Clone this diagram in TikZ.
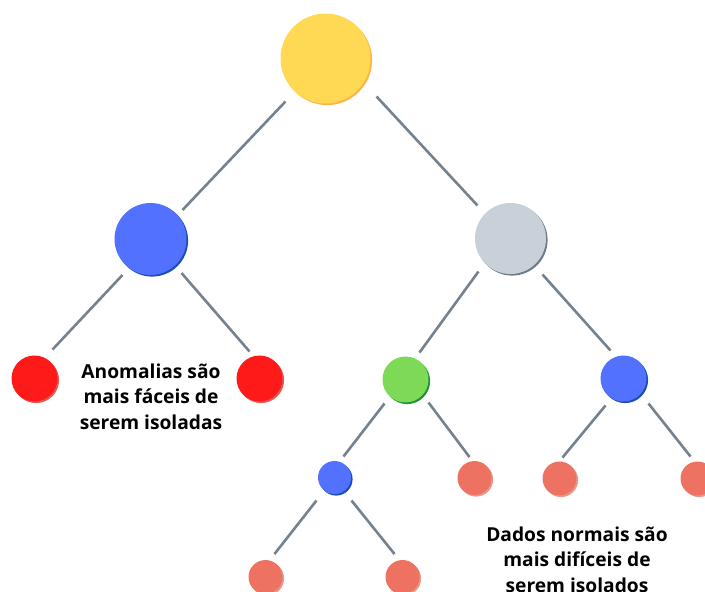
\documentclass[tikz,border=0pt]{standalone}
\usepackage{fontspec}
\setmainfont{Open Sans}
\definecolor{lineC}{HTML}{75828D}
\definecolor{yel}{HTML}{FFD954}
\definecolor{yelS}{HTML}{FFB347}
\definecolor{blu}{HTML}{5271FF}
\definecolor{bluS}{HTML}{1D4DB5}
\definecolor{gry}{HTML}{C8D0DA}
\definecolor{gryS}{HTML}{6F7C88}
\definecolor{rd}{HTML}{FF1A1A}
\definecolor{rdS}{HTML}{E05A5A}
\definecolor{grn}{HTML}{7ED957}
\definecolor{grnS}{HTML}{1E8F3A}
\definecolor{sal}{HTML}{EE7262}
\definecolor{salS}{HTML}{E59A8E}
\tikzset{
  ball/.style n args={3}{circle, inner sep=0pt, minimum size=#1, fill=#2,
    preaction={fill=#3, transform canvas={shift={(1.6pt,-1.6pt)}}}},
  conn/.style={draw=lineC, line width=2.6pt},
  caption/.style={font=\bfseries\fontsize{19.2}{25.5}\selectfont, align=center, text=black}
}
\begin{document}
\begin{tikzpicture}[x=1pt,y=-1pt]
\useasboundingbox (0,0) rectangle (705,592);
% nodes
\node[ball={90pt}{yel}{yelS}] (R) at (325.5,58.5) {};
\node[ball={72pt}{blu}{bluS}] (B1) at (150.5,239) {};
\node[ball={71pt}{gry}{gryS}] (G1) at (510.5,238.5) {};
\node[ball={46pt}{rd}{rdS}] (RL) at (34.5,378.5) {};
\node[ball={46pt}{rd}{rdS}] (RR) at (259.5,378.5) {};
\node[ball={46pt}{grn}{grnS}] (GR) at (405.5,379.5) {};
\node[ball={46pt}{blu}{bluS}] (BR) at (623.5,378.5) {};
\node[ball={33pt}{blu}{bluS}] (SB) at (334.5,477.5) {};
\node[ball={34pt}{sal}{salS}] (S1) at (474.5,478) {};
\node[ball={34pt}{sal}{salS}] (S2) at (559.5,478.5) {};
\node[ball={34pt}{sal}{salS}] (S3) at (697.5,478.5) {};
\node[ball={34pt}{sal}{salS}] (L1) at (265.5,577) {};
\node[ball={34pt}{sal}{salS}] (L2) at (402.5,577) {};
% connectors
\draw[conn] ([shift={(-40,43)}]R.center) -- ([shift={(32,-29)}]B1.center);
\draw[conn] ([shift={(51,38)}]R.center) -- ([shift={(-33,-33)}]G1.center);
\draw[conn] ([shift={(-28,36)}]B1.center) -- ([shift={(18,-29)}]RL.center);
\draw[conn] ([shift={(31,34)}]B1.center) -- ([shift={(-10,-27)}]RR.center);
\draw[conn] ([shift={(-32,33)}]G1.center) -- ([shift={(14,-27)}]GR.center);
\draw[conn] ([shift={(32,36)}]G1.center) -- ([shift={(-13,-28)}]BR.center);
\draw[conn] ([shift={(-21,24)}]GR.center) -- ([shift={(9,-21)}]SB.center);
\draw[conn] ([shift={(23,23)}]GR.center) -- ([shift={(-5,-21)}]S1.center);
\draw[conn] ([shift={(-18,27)}]BR.center) -- ([shift={(3,-21)}]S2.center);
\draw[conn] ([shift={(25,25)}]BR.center) -- ([shift={(-7,-22)}]S3.center);
\draw[conn] ([shift={(-18,23)}]SB.center) -- ([shift={(9,-23)}]L1.center);
\draw[conn] ([shift={(17,23)}]SB.center) -- ([shift={(-8,-23)}]L2.center);
% captions (base anchor = baseline of the last line)
\node[caption, anchor=base] (T1) at (151,429) {Anomalias são\\mais fáceis de\\serem isoladas};
\node[caption, anchor=base] (T2) at (577,592) {Dados normais são\\mais difíceis de\\serem isolados};
\end{tikzpicture}
\end{document}
